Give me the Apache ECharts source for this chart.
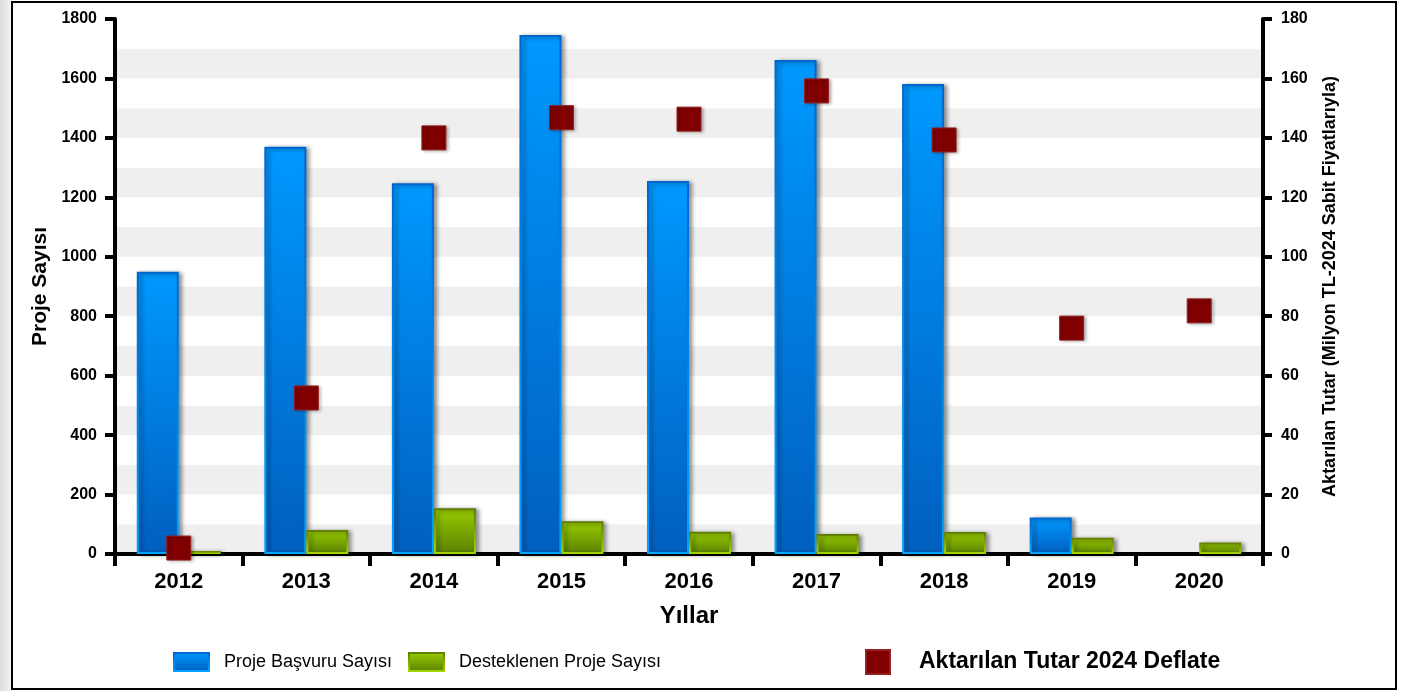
<!DOCTYPE html>
<html>
<head>
<meta charset="utf-8">
<title>Proje Sayısı</title>
<script src="https://cdn.jsdelivr.net/npm/echarts@6/dist/echarts.min.js"></script>
<style>
  html, body { margin: 0; padding: 0; background: #fff; }
  #chart { width: 1405px; height: 691px; }
</style>
</head>
<body>
<div id="chart"></div>
<script>
// data
const years = ['2012', '2013', '2014', '2015', '2016', '2017', '2018', '2019', '2020']
const basvuru = [950, 1370, 1247, 1746, 1255, 1662, 1581, 123, null]
const desteklenen = [10, 81, 154, 110, 75, 67, 74, 55, 39]
const aktarilan = [2, 52.5, 140, 146.8, 146.3, 155.8, 139.3, 76, 81.8]

const names = ['Proje Başvuru Sayısı', 'Desteklenen Proje Sayısı', 'Aktarılan Tutar 2024 Deflate']
const font = 'Liberation Sans, Arial, sans-serif'

const grad = (c1, c2) => new echarts.graphic.LinearGradient(0, 0, 0, 1, [
  {offset: 0, color: c1},
  {offset: 1, color: c2}
])

const axisLine = {show: true, lineStyle: {color: '#000', width: 4}}
const axisTick = (len) => ({show: true, length: len, lineStyle: {color: '#000', width: 4}})
const plain = (v) => String(v)

const chart = echarts.init(document.getElementById('chart'))

chart.setOption({
  backgroundColor: '#fff',
  animation: false,
  graphic: [
    {
      type: 'rect', silent: true, z: -10,
      shape: {x: 0, y: 0, width: 12, height: 691},
      style: {fill: new echarts.graphic.LinearGradient(0, 0, 1, 0, [
        {offset: 0, color: '#dcdcdc'}, {offset: 1, color: '#f6f6f6'}
      ])}
    },
    {
      type: 'rect', silent: true, z: 100,
      shape: {x: 12, y: 2, width: 1384, height: 687},
      style: {fill: 'none', stroke: '#000', lineWidth: 2}
    }
  ],
  grid: {left: 115, right: 142, top: 19, bottom: 137, containLabel: false},
  legend: [
    {
      data: [{name: names[0], icon: 'rect'}], left: 173, top: 652, padding: 0,
      itemWidth: 35, itemHeight: 18,
      textStyle: {fontFamily: font, fontSize: 18, color: '#000', padding: [0, 0, 0, 10]}
    },
    {
      data: [{name: names[1], icon: 'rect'}], left: 408, top: 652, padding: 0,
      itemWidth: 35, itemHeight: 18,
      textStyle: {fontFamily: font, fontSize: 18, color: '#000', padding: [0, 0, 0, 10]}
    },
    {
      data: [{name: names[2], icon: 'rect'}], left: 865, top: 649, padding: 0,
      itemWidth: 24, itemHeight: 24,
      textStyle: {fontFamily: font, fontSize: 23, fontWeight: 'bold', color: '#000', padding: [0, 0, 0, 24]}
    }
  ],
  xAxis: {
    type: 'category',
    data: years,
    name: 'Yıllar',
    nameLocation: 'middle',
    nameGap: 50,
    nameTextStyle: {fontFamily: font, fontSize: 24, fontWeight: 'bold', color: '#000'},
    axisLine: axisLine,
    axisTick: axisTick(12),
    axisLabel: {fontFamily: font, fontSize: 22, fontWeight: 'bold', color: '#000', margin: 17},
    splitLine: {show: false}
  },
  yAxis: [
    {
      type: 'value',
      min: 0, max: 1800, interval: 200,
      position: 'left',
      name: 'Proje Sayısı',
      nameLocation: 'middle',
      nameGap: 62,
      nameTextStyle: {fontFamily: font, fontSize: 21, fontWeight: 'bold', color: '#000'},
      axisLine: axisLine,
      axisTick: axisTick(10),
      axisLabel: {fontFamily: font, fontSize: 16, fontWeight: 'bold', color: '#000', margin: 18, formatter: plain},
      splitLine: {show: false}
    },
    {
      type: 'value',
      min: 0, max: 180, interval: 20,
      position: 'right',
      name: 'Aktarılan Tutar (Milyon TL-2024 Sabit Fiyatlarıyla)',
      nameLocation: 'middle',
      nameGap: 58,
      nameTextStyle: {fontFamily: font, fontSize: 18, fontWeight: 'bold', color: '#000'},
      axisLine: axisLine,
      axisTick: axisTick(9),
      axisLabel: {fontFamily: font, fontSize: 16, fontWeight: 'bold', color: '#000', margin: 18, formatter: plain},
      splitLine: {show: false}
    },
    {
      // only for the grey bands every 100
      type: 'value',
      min: 0, max: 1800, interval: 100,
      position: 'left',
      axisLine: {show: false},
      axisTick: {show: false},
      axisLabel: {show: false},
      splitLine: {show: false},
      splitArea: {show: true, areaStyle: {color: ['#efefef', '#ffffff']}}
    }
  ],
  series: [
    {
      name: names[0],
      type: 'bar',
      yAxisIndex: 0,
      data: basvuru,
      barWidth: 42,
      barGap: '0%',
      itemStyle: {
        color: grad('#0099ff', '#005fbf'),
        borderColor: grad('#0066cc', '#00a4ff'),
        borderWidth: 2,
        shadowColor: 'rgba(0,0,0,0.4)',
        shadowBlur: 4,
        shadowOffsetX: 3,
        shadowOffsetY: 1
      }
    },
    {
      name: names[1],
      type: 'bar',
      yAxisIndex: 0,
      data: desteklenen,
      barWidth: 42,
      barGap: '0%',
      itemStyle: {
        color: grad('#99cc00', '#5a8000'),
        borderColor: grad('#5e7d00', '#a6d600'),
        borderWidth: 2,
        shadowColor: 'rgba(0,0,0,0.4)',
        shadowBlur: 4,
        shadowOffsetX: 3,
        shadowOffsetY: 1
      }
    },
    {
      name: names[2],
      type: 'scatter',
      yAxisIndex: 1,
      data: aktarilan,
      symbol: 'rect',
      symbolSize: 24,
      z: 5,
      itemStyle: {
        color: '#800000',
        opacity: 1,
        borderColor: '#962020',
        borderWidth: 1,
        shadowColor: 'rgba(0,0,0,0.3)',
        shadowBlur: 3,
        shadowOffsetX: 2,
        shadowOffsetY: 1
      }
    }
  ]
})
</script>
</body>
</html>
